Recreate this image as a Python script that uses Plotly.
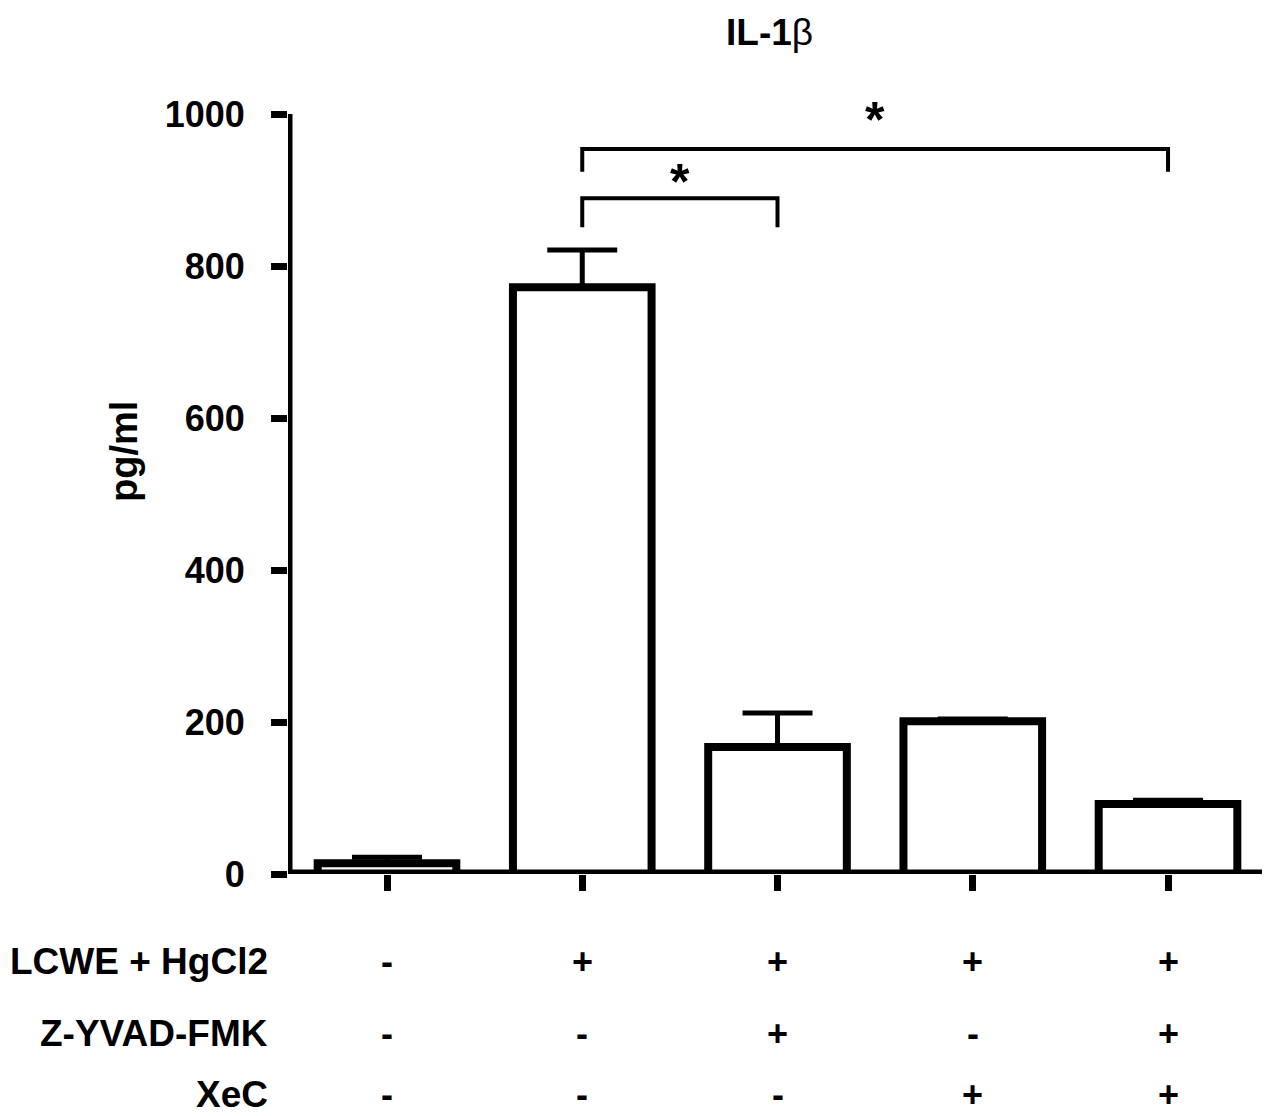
import plotly.graph_objects as go

# ---- data ----
groups = ["G1", "G2", "G3", "G4", "G5"]
means = [14, 772, 167, 201, 92]
errors = [8, 49, 45, 3, 5]
y_ticks = [0, 200, 400, 600, 800, 1000]
row_names = ["LCWE + HgCl2", "Z-YVAD-FMK", "XeC"]
lcwe = ["-", "+", "+", "+", "+"]
zyvad = ["-", "-", "+", "-", "+"]
xec = ["-", "-", "-", "+", "+"]
# comparisons: (from group, to group, bracket height, leg end, label)
comparisons = [(1, 2, 889, 851, "*"), (1, 4, 954, 924, "*")]
star_heights = [910, 992]

FONT = "Liberation Sans, Arial, Helvetica, sans-serif"
xpos = list(range(len(groups)))

# page body has an 8px margin -> figure is 8px smaller than window
W, H = 1262, 1108
L, R, T, B = 280, 2, 106, 242
PW = W - L - R  # 980
PH = H - T - B  # 760


def px(xw):  # window x pixel -> paper
    return (xw - 8 - L) / PW


def py(yw):  # window y pixel -> paper
    return (H - B - (yw - 8)) / PH


fig = go.Figure()
fig.add_trace(go.Bar(
    x=xpos, y=means, width=0.71,
    marker=dict(color="white", line=dict(color="black", width=8)),
    error_y=dict(type="data", symmetric=False, array=errors,
                 arrayminus=[0] * len(errors), color="black",
                 thickness=5, width=35),
    showlegend=False, hoverinfo="skip"))

# significance brackets
for (a, b, yh, ye, lab), ys in zip(comparisons, star_heights):
    fig.add_trace(go.Scatter(
        x=[a, a, b, b], y=[ye, yh, yh, ye], mode="lines",
        line=dict(color="black", width=4), showlegend=False, hoverinfo="skip"))
    fig.add_annotation(x=(a + b) / 2, y=ys, xref="x", yref="y", text=lab,
                       showarrow=False, yanchor="middle",
                       font=dict(family=FONT, size=50, color="black", weight="bold"))

XMIN, XMAX = -0.507, 4.512

# axis lines
fig.add_shape(type="line", x0=-0.584, x1=XMAX, y0=0, y1=0, xref="x", yref="y",
              line=dict(color="black", width=9), layer="above")
fig.add_shape(type="line", x0=XMIN, x1=XMIN, y0=0, y1=1000, xref="x", yref="y",
              line=dict(color="black", width=9), layer="above")

# treatment rows below axis
row_y = [py(962), py(1033), py(1094)]
for name, signs, ry in zip(row_names, [lcwe, zyvad, xec], row_y):
    fig.add_annotation(x=px(270), y=ry, xref="paper", yref="paper", text=name,
                       showarrow=False, xanchor="right", yanchor="middle",
                       font=dict(family=FONT, size=37, color="black", weight="bold"))
    for xi, s in zip(xpos, signs):
        fig.add_annotation(x=xi, y=ry, xref="x", yref="paper", text=s,
                           showarrow=False, xanchor="center", yanchor="middle",
                           font=dict(family=FONT, size=36, color="black", weight="bold"))

# title
fig.add_annotation(x=px(769), y=py(33), xref="paper", yref="paper",
                   text="<b>IL-1</b>β", showarrow=False, yanchor="middle",
                   font=dict(family=FONT, size=37, color="black"))
# y title
fig.add_annotation(x=px(124), y=py(452), xref="paper", yref="paper",
                   text="pg/ml", textangle=-90, showarrow=False,
                   xanchor="center", yanchor="middle",
                   font=dict(family=FONT, size=38, color="black", weight="bold"))

fig.update_layout(
    width=W, height=H,
    margin=dict(l=L, r=R, t=T, b=B, pad=0),
    paper_bgcolor="white", plot_bgcolor="white",
    xaxis=dict(range=[XMIN, XMAX], tickvals=xpos, ticktext=[""] * len(xpos),
               ticks="outside", ticklen=16, tickwidth=7, tickcolor="black",
               showline=False, showgrid=False, zeroline=False, fixedrange=True),
    yaxis=dict(range=[0, 1000], tickvals=y_ticks, ticks="outside", ticklen=16,
               tickwidth=7, tickcolor="black", showline=False, showgrid=False,
               zeroline=False, ticklabelstandoff=19,
               tickfont=dict(family=FONT, size=36, color="black", weight="bold")),
    font=dict(family=FONT, color="black"),
    bargap=0.29,
)

fig.write_html("out.html")
